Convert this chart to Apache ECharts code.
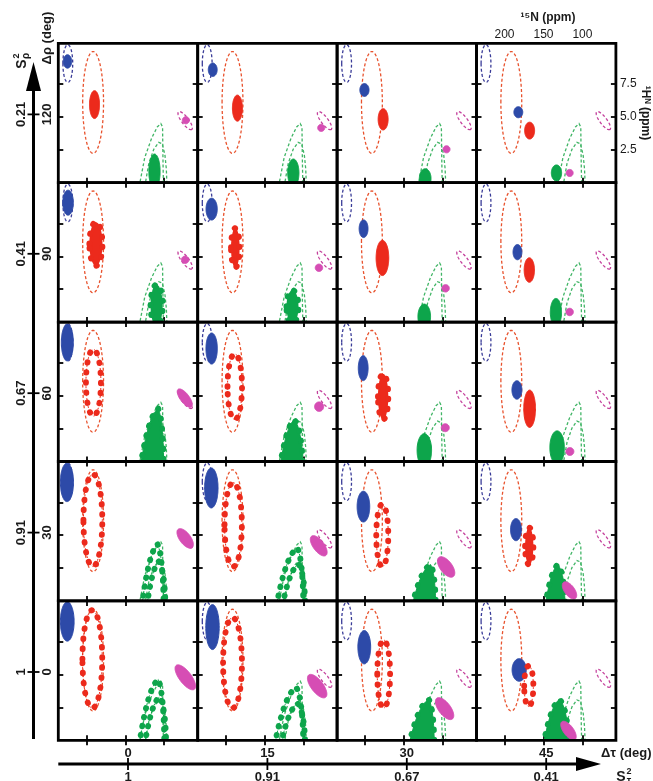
<!DOCTYPE html>
<html><head><meta charset="utf-8">
<script src="https://cdn.jsdelivr.net/npm/echarts@6/dist/echarts.min.js"></script>
<style>html,body{margin:0;padding:0;background:#fff}#c{width:653px;height:781px}</style>
</head><body><div id="c"></div>
<script>
// ---------------- labels ----------------
const rhoDeg = ['120', '90', '60', '30', '0'];
const sRho = ['0.21', '0.41', '0.67', '0.91', '1'];
const tauDeg = ['0', '15', '30', '45'];
const sTau = ['1', '0.91', '0.67', '0.41'];
const n15Ticks = [200, 150, 100];
const h1Ticks = [2.5, 5.0, 7.5];

// ---------------- static dashed contours (ppm) [cx, cy, ux, uy, vx, vy] ----------------
const blueContour = [223.8, 9.06, 6.3, 0, 0, 1.43];
const redContour = [191.3, 6.1, 13.4, 0, 0, 3.87];
const magentaContour = [73.1, 4.72, -8.5, -0.67, 3.6, -0.16];
const greenContourOuter = [[132.2, -0.3], [125.0, 1.91], [116.1, 3.39], [108.9, 4.24], [104.4, 4.5], [102.1, 4.24], [101.8, 2.65], [101.4, 1.06], [100.9, -0.3]];
const greenContourInner = [[125.0, -0.3], [119.7, 1.48], [113.4, 2.54], [107.1, 3.07], [102.6, 2.97], [99.1, 2.12], [97.3, 1.06], [96.4, -0.3]];

// ---------------- simulated shifts: [row, col, cx(15N), cy(1H), rx, ry, style] ----------------
const blueShifts = [
  [0,0,224.2,9.22,5.4,0.51],[0,1,216.7,8.59,5.7,0.51],[0,2,200.9,7.05,5.9,0.49],[0,3,182.3,5.36,5.7,0.42],
  [1,0,223.5,9.08,6.8,0.95],[1,1,218.1,8.59,7.2,0.83],[1,2,202.0,7.10,5.7,0.67],[1,3,183.4,5.32,5.7,0.58],
  [2,0,224.4,9.05,7.7,1.40],[2,1,218.1,8.59,7.3,1.18],[2,2,202.5,7.10,6.3,0.95],[2,3,184.1,5.44,6.4,0.70],
  [3,0,224.9,9.01,8.4,1.46],[3,1,218.5,8.59,8.6,1.52],[3,2,202.2,7.17,8.1,1.17],[3,3,185.3,5.42,7.0,0.84],
  [4,0,224.5,9.03,8.8,1.49],[4,1,217.0,8.61,8.6,1.71],[4,2,201.1,7.08,8.2,1.27],[4,3,181.2,5.35,9.1,0.86]
];
const redShifts = [
  [0,0,189.5,5.94,6.4,1.06,'solid'],[0,1,185.0,5.67,6.4,0.99,'solid'],[0,2,176.9,4.82,6.4,0.81,'solid'],[0,3,167.8,3.96,6.4,0.64,'solid'],
  [1,0,187.7,5.94,12.2,1.88,'dense'],[1,1,187.7,5.65,9.3,1.72,'dense'],[1,2,177.8,4.88,8.1,1.34,'solid'],[1,3,168.2,3.96,6.6,0.93,'solid'],
  [2,0,190.9,5.99,13.4,2.76,'ring'],[2,1,188.4,5.69,13.1,2.72,'ring'],[2,2,176.9,4.93,10.4,1.96,'dense'],[2,3,167.8,4.01,7.5,1.42,'solid'],
  [3,0,191.6,6.13,15.9,3.73,'ring'],[3,1,190.4,5.80,14.9,3.42,'ring'],[3,2,178.0,4.98,11.5,2.60,'ring'],[3,3,168.3,4.16,9.1,1.64,'dense'],
  [4,0,192.3,6.17,16.5,3.95,'ring'],[4,1,191.3,5.89,15.9,3.67,'ring'],[4,2,176.2,5.04,12.0,2.81,'ring'],[4,3,168.9,4.12,9.7,1.77,'ring']
];
const greenShifts = [
  [0,0,112.5,0.85,7.2,1.33,'solid'],[0,1,113.2,0.74,7.2,1.06,'solid'],[0,2,122.9,0.32,7.5,0.74,'solid'],[0,3,133.3,0.74,6.6,0.61,'solid'],
  [1,0,109.8,1.27,11.5,1.80,'dense'],[1,1,114.3,1.17,11.5,1.48,'dense'],[1,2,124.1,0.42,8.1,0.95,'solid'],[1,3,134.0,0.74,7.2,1.06,'solid'],
  [2,2,124.0,0.85,9.3,1.27,'solid'],[2,3,132.5,1.06,9.3,1.27,'solid']
];
// arches: [row, col, leftFoot15N, apex15N, apex1H, rightFoot15N, style]
const greenArches = [
  [2,0,130.4,107.7,4.03,100.7,'fill'],[2,1,130.2,111.8,3.18,101.2,'fill'],
  [3,0,128.6,108.6,4.32,100.7,'dots'],[3,0,122.0,107.0,3.00,98.5,'dots'],
  [3,1,134.7,108.0,4.03,100.3,'dots'],[3,1,127.0,106.5,2.80,98.0,'dots'],
  [3,2,139.3,115.9,2.76,109.4,'fill'],[3,3,147.6,131.5,2.76,122.3,'fill'],
  [4,0,132.0,107.7,4.62,99.8,'dots'],[4,0,125.0,106.0,3.30,97.5,'dots'],
  [4,1,137.0,109.4,4.04,100.3,'dots'],[4,1,129.0,107.5,2.80,98.0,'dots'],
  [4,2,143.5,118.2,3.11,111.2,'fill'],[4,3,149.9,129.3,3.11,117.7,'fill']
];
// magenta: [row, col, cx, cy, ux, uy, vx, vy]
const magentaShifts = [
  [0,0,72.2,4.75,4.5,0,0,0.27],[0,1,77.4,4.17,4.5,0,0,0.27],[0,2,95.5,2.54,4.5,0,0,0.27],[0,3,116.4,0.74,4.5,0,0,0.27],
  [1,0,73.1,4.74,4.75,0,0,0.28],[1,1,80.3,4.13,4.75,0,0,0.28],[1,2,96.7,2.57,4.75,0,0,0.28],[1,3,116.4,0.77,4.75,0,0,0.28],
  [2,0,73.6,4.82,-8.5,-0.67,4.6,-0.20],[2,1,80.1,4.17,5.8,0,0,0.36],[2,2,97.1,2.57,5.1,0,0,0.30],[2,3,116.1,0.76,5.1,0,0,0.30],
  [3,0,73.1,4.75,-8.9,-0.70,5.6,-0.25],[3,1,80.6,4.19,-9.2,-0.73,5.6,-0.25],[3,2,96.0,2.58,-9.2,-0.73,6.2,-0.27],[3,3,116.6,0.80,-7.7,-0.61,5.1,-0.23],
  [4,0,72.9,4.79,-11.6,-0.91,6.2,-0.27],[4,1,82.6,4.12,-10.8,-0.85,6.2,-0.27],[4,2,98.0,2.41,-10.0,-0.79,6.2,-0.27],[4,3,117.9,0.74,-8.5,-0.67,5.1,-0.23]
];

// ---------------- styling / layout ----------------
const COL = { red: '#ec2a1c', blue: '#2d4aa8', green: '#0da54b', mag: '#d64db4',
  redD: '#e8522d', blueD: '#3a3c98', greenD: '#41b566', magD: '#c4409c' };
const FONT = "'Liberation Sans', Arial, sans-serif";
const L0 = 58.3, T0 = 43.3, S = 139.4;
const XMIN = 57, XMAX = 236, YMIN = 0, YMAX = 10.6;
const DOT = 5.9, GAP = 9.6;

function ellPts(api, e, inset) {
  const c = api.coord([e.cx, e.cy]);
  const pu = api.coord([e.cx + e.ux, e.cy + e.uy]);
  const pv = api.coord([e.cx + e.vx, e.cy + e.vy]);
  let ux = pu[0] - c[0], uy = pu[1] - c[1], vx = pv[0] - c[0], vy = pv[1] - c[1];
  if (inset) {
    const lu = Math.hypot(ux, uy), lv = Math.hypot(vx, vy);
    const fu = Math.max(lu - inset, 0.6) / lu, fv = Math.max(lv - inset, 0.6) / lv;
    ux *= fu; uy *= fu; vx *= fv; vy *= fv;
  }
  const pts = [];
  for (let i = 0; i < 96; i++) {
    const t = i / 96 * 2 * Math.PI;
    pts.push([c[0] + ux * Math.cos(t) + vx * Math.sin(t), c[1] + uy * Math.cos(t) + vy * Math.sin(t)]);
  }
  return pts;
}
function ellipseEls(api, e, color, style) {
  const out = [];
  if (style === 'dash') {
    out.push({ type: 'polygon', shape: { points: ellPts(api, e, 0) }, style: { fill: 'none', stroke: color, lineWidth: 1.3, lineDash: [3, 2.2] } });
  } else if (style === 'solid') {
    out.push({ type: 'polygon', shape: { points: ellPts(api, e, 0) }, style: { fill: color, stroke: color, lineWidth: 1 } });
  } else {
    const pts = ellPts(api, e, DOT / 2);
    if (style === 'dense') out.push({ type: 'polygon', shape: { points: pts }, style: { fill: color, stroke: 'none' } });
    else out.push({ type: 'polygon', shape: { points: pts }, style: { fill: 'none', stroke: color, lineWidth: 1, lineDash: [2, 2] } });
    out.push({ type: 'polygon', shape: { points: pts }, style: { fill: 'none', stroke: color, lineWidth: DOT, lineDash: [0.5, GAP], lineCap: 'round' } });
  }
  return out;
}
function quad(p0, p1, p2, n, out) {
  for (let i = 0; i <= n; i++) {
    const t = i / n, a = (1 - t) * (1 - t), b = 2 * t * (1 - t), d = t * t;
    out.push([a * p0[0] + b * p1[0] + d * p2[0], a * p0[1] + b * p1[1] + d * p2[1]]);
  }
}
function archEls(api, d, color) {
  const pL = api.coord([d[2], 0]), pA = api.coord([d[3], d[4]]), pR = api.coord([d[5], 0]);
  const by = pL[1] + 4;
  const f0 = [pL[0], by], f1 = [pR[0], by];
  const cL = [pL[0] + (pA[0] - pL[0]) * 0.45, pA[1] + (by - pA[1]) * 0.12];
  const cR = [pR[0] - (pR[0] - pA[0]) * 0.1, pA[1] + (by - pA[1]) * 0.2];
  const pts = [];
  quad(f0, cL, pA, 20, pts);
  quad(pA, cR, f1, 20, pts);
  const out = [];
  if (d[6] === 'fill') {
    out.push({ type: 'polygon', shape: { points: pts }, style: { fill: color, stroke: color, lineWidth: 1 } });
    out.push({ type: 'polyline', shape: { points: pts }, style: { fill: 'none', stroke: color, lineWidth: DOT, lineDash: [0.5, GAP], lineCap: 'round' } });
  } else {
    out.push({ type: 'polyline', shape: { points: pts }, style: { fill: 'none', stroke: color, lineWidth: 1, lineDash: [2, 2] } });
    out.push({ type: 'polyline', shape: { points: pts }, style: { fill: 'none', stroke: color, lineWidth: DOT, lineDash: [0.5, GAP - 1], lineCap: 'round' } });
  }
  return out;
}
const toE = a => ({ cx: a[0], cy: a[1], ux: a[2], uy: a[3], vx: a[4], vy: a[5] });
const axE = d => ({ cx: d[2], cy: d[3], ux: d[4], uy: 0, vx: 0, vy: d[5] });

function panelRender(r, c) {
  const here = d => d[0] === r && d[1] === c;
  return function (params, api) {
    const cs = params.coordSys;
    const kids = [];
    kids.push(...ellipseEls(api, toE(blueContour), COL.blueD, 'dash'));
    kids.push(...ellipseEls(api, toE(redContour), COL.redD, 'dash'));
    kids.push(...ellipseEls(api, toE(magentaContour), COL.magD, 'dash'));
    [greenContourOuter, greenContourInner].forEach(line => kids.push({
      type: 'polyline', shape: { points: line.map(p => api.coord(p)) },
      style: { fill: 'none', stroke: COL.greenD, lineWidth: 1.3, lineDash: [3, 2.2] }
    }));
    blueShifts.filter(here).forEach(d => kids.push(...ellipseEls(api, axE(d), COL.blue, 'solid')));
    redShifts.filter(here).forEach(d => kids.push(...ellipseEls(api, axE(d), COL.red, d[6])));
    greenShifts.filter(here).forEach(d => kids.push(...ellipseEls(api, axE(d), COL.green, d[6])));
    greenArches.filter(here).forEach(d => kids.push(...archEls(api, d, COL.green)));
    magentaShifts.filter(here).forEach(d => kids.push(...ellipseEls(api,
      { cx: d[2], cy: d[3], ux: d[4], uy: d[5], vx: d[6], vy: d[7] }, COL.mag, 'solid')));
    return { type: 'group', children: kids,
      clipPath: { type: 'rect', shape: { x: cs.x, y: cs.y, width: cs.width, height: cs.height } } };
  };
}

const grids = [], xAxes = [], yAxes = [], series = [], graphics = [];
const tickStyle = { show: true, inside: true, length: 5, lineStyle: { color: '#000', width: 1.8 } };
for (let r = 0; r < 5; r++) {
  for (let c = 0; c < 4; c++) {
    const k = r * 4 + c;
    const gx = L0 + c * S, gy = T0 + r * S;
    grids.push({ left: gx, top: gy, width: S, height: S, show: false });
    ['bottom', 'top'].forEach(pos => xAxes.push({
      type: 'value', gridIndex: k, position: pos, inverse: true, min: XMIN, max: XMAX,
      axisLine: { show: false }, splitLine: { show: false },
      axisTick: Object.assign({ customValues: n15Ticks }, tickStyle),
      axisLabel: { show: pos === 'top' && r === 0 && c === 3, customValues: n15Ticks,
        fontSize: 12, color: '#1a1a1a', margin: 3, fontFamily: FONT }
    }));
    ['left', 'right'].forEach(pos => yAxes.push({
      type: 'value', gridIndex: k, position: pos, min: YMIN, max: YMAX,
      axisLine: { show: false }, splitLine: { show: false },
      axisTick: Object.assign({ customValues: h1Ticks }, tickStyle),
      axisLabel: { show: pos === 'right' && r === 0 && c === 3, customValues: h1Ticks,
        formatter: v => v.toFixed(1), fontSize: 12, color: '#1a1a1a', margin: 4, fontFamily: FONT }
    }));
    series.push({ type: 'custom', xAxisIndex: 2 * k, yAxisIndex: 2 * k, data: [[150, 5]],
      renderItem: panelRender(r, c), silent: true, animation: false });
    graphics.push({ type: 'rect', z: 100, silent: true, shape: { x: gx, y: gy, width: S, height: S },
      style: { fill: 'none', stroke: '#000', lineWidth: 2.8 } });
  }
}

// ---- left vertical arrow (S_rho^2 / Delta rho) ----
const AX = 33.5;
graphics.push({ type: 'line', z: 50, shape: { x1: AX, y1: 739, x2: AX, y2: 86 }, style: { stroke: '#000', lineWidth: 3 } });
graphics.push({ type: 'polygon', z: 50, shape: { points: [[AX, 62], [AX - 7.5, 91], [AX + 7.5, 91]] }, style: { fill: '#000' } });
for (let r = 0; r < 5; r++) {
  const yc = T0 + r * S + S * 0.51;
  graphics.push({ type: 'line', z: 50, shape: { x1: AX - 6, y1: yc, x2: AX + 6, y2: yc }, style: { stroke: '#000', lineWidth: 1.8 } });
  graphics.push({ type: 'text', z: 50, x: 21, y: yc, rotation: Math.PI / 2,
    style: { text: sRho[r], fontSize: 13, fontWeight: 'bold', fontFamily: FONT, fill: '#1a1a1a', align: 'center', verticalAlign: 'middle' } });
  graphics.push({ type: 'text', z: 50, x: 47, y: yc, rotation: Math.PI / 2,
    style: { text: rhoDeg[r], fontSize: 13, fontWeight: 'bold', fontFamily: FONT, fill: '#1a1a1a', align: 'center', verticalAlign: 'middle' } });
}
graphics.push({ type: 'text', z: 50, x: 47, y: 38, rotation: Math.PI / 2,
  style: { text: 'Δρ (deg)', fontSize: 13, fontWeight: 'bold', fontFamily: FONT, fill: '#1a1a1a', align: 'center', verticalAlign: 'middle' } });
graphics.push({ type: 'group', x: 22, y: 64, rotation: Math.PI / 2, children: [
  { type: 'text', x: 0, y: 0, style: { text: 'S', fontSize: 14, fontWeight: 'bold', fontFamily: FONT, fill: '#1a1a1a', align: 'center', verticalAlign: 'middle' } },
  { type: 'text', x: 8, y: -5, style: { text: '2', fontSize: 9, fontWeight: 'bold', fontFamily: FONT, fill: '#1a1a1a', align: 'center', verticalAlign: 'middle' } },
  { type: 'text', x: 8, y: 4, style: { text: 'ρ', fontSize: 10, fontWeight: 'bold', fontFamily: FONT, fill: '#1a1a1a', align: 'center', verticalAlign: 'middle' } }
] });

// ---- bottom horizontal arrow (S_tau^2 / Delta tau) ----
const AY = 764;
graphics.push({ type: 'line', z: 50, shape: { x1: L0, y1: AY, x2: 580, y2: AY }, style: { stroke: '#000', lineWidth: 3 } });
graphics.push({ type: 'polygon', z: 50, shape: { points: [[601, AY], [576, AY - 7], [576, AY + 7]] }, style: { fill: '#000' } });
for (let c = 0; c < 4; c++) {
  const xc = L0 + c * S + S * 0.5;
  graphics.push({ type: 'line', z: 50, shape: { x1: xc, y1: AY - 6, x2: xc, y2: AY + 6 }, style: { stroke: '#000', lineWidth: 1.8 } });
  graphics.push({ type: 'text', z: 50, x: xc, y: 753,
    style: { text: tauDeg[c], fontSize: 13, fontWeight: 'bold', fontFamily: FONT, fill: '#1a1a1a', align: 'center', verticalAlign: 'middle' } });
  graphics.push({ type: 'text', z: 50, x: xc, y: 771,
    style: { text: sTau[c], fontSize: 13, fontWeight: 'bold', fontFamily: FONT, fill: '#1a1a1a', align: 'center', verticalAlign: 'top' } });
}
graphics.push({ type: 'text', z: 50, x: 601, y: 753,
  style: { text: 'Δτ (deg)', fontSize: 13, fontWeight: 'bold', fontFamily: FONT, fill: '#1a1a1a', align: 'left', verticalAlign: 'middle' } });
graphics.push({ type: 'group', x: 621, y: 777, children: [
  { type: 'text', x: 0, y: 0, style: { text: 'S', fontSize: 14, fontWeight: 'bold', fontFamily: FONT, fill: '#1a1a1a', align: 'center', verticalAlign: 'middle' } },
  { type: 'text', x: 8, y: -5, style: { text: '2', fontSize: 9, fontWeight: 'bold', fontFamily: FONT, fill: '#1a1a1a', align: 'center', verticalAlign: 'middle' } },
  { type: 'text', x: 8, y: 4, style: { text: 'τ', fontSize: 10, fontWeight: 'bold', fontFamily: FONT, fill: '#1a1a1a', align: 'center', verticalAlign: 'middle' } }
] });

// ---- top / right axis titles ----
graphics.push({ type: 'text', z: 50, x: 548, y: 18,
  style: { text: '¹⁵N (ppm)', fontSize: 12, fontWeight: 'bold', fontFamily: FONT, fill: '#1a1a1a', align: 'center', verticalAlign: 'middle' } });
graphics.push({ type: 'text', z: 50, x: 645, y: 113, rotation: -Math.PI / 2,
  style: { text: '¹Hᴺ (ppm)', fontSize: 12, fontWeight: 'bold', fontFamily: FONT, fill: '#1a1a1a', align: 'center', verticalAlign: 'middle' } });

const chart = echarts.init(document.getElementById('c'), null, { renderer: 'canvas' });
chart.setOption({
  animation: false,
  backgroundColor: '#fff',
  grid: grids, xAxis: xAxes, yAxis: yAxes, series: series,
  graphic: { elements: graphics }
});
</script>
</body></html>
